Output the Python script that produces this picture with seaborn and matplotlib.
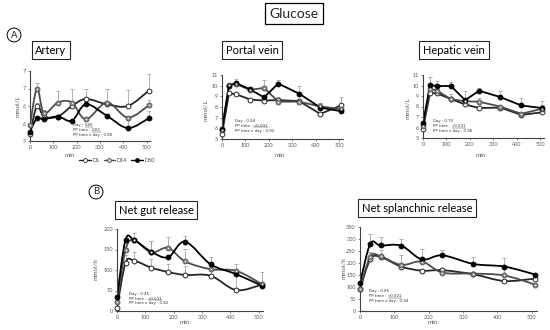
import numpy as np
import pandas as pd
import matplotlib
matplotlib.use("Agg")
import matplotlib.pyplot as plt
import seaborn as sns
from matplotlib.path import Path
from matplotlib.patches import PathPatch
from matplotlib.lines import Line2D

#---------- data ----------
minutes = [0, 30, 60, 120, 180, 240, 330, 420, 510]
days = ["D1", "D14", "D60"]

artery_d1 = [5.2, 6.0, 5.7, 5.7, 6.0, 6.2, 6.05, 6.0, 6.44]
artery_d14 = [5.45, 6.5, 5.8, 6.1, 6.1, 5.62, 6.1, 5.67, 6.02]
artery_d60 = [5.27, 5.65, 5.62, 5.7, 5.58, 6.05, 5.72, 5.37, 5.65]
artery_err_d1 = [0, 0.1, 0.15, 0, 0.1, 0.3, 0, 0.45, 0.48]
artery_err_d14 = [0, 0.15, 0.1, 0.32, 0.4, 0, 0.4, 0, 0.16]
artery_err_d60 = [0, 0, 0, 0, 0, 0, 0, 0.23, 0.2]

portal_d1 = [5.45, 9.3, 9.2, 8.7, 8.6, 8.65, 8.55, 7.35, 8.15]
portal_d14 = [5.85, 10.1, 10.15, 9.6, 9.8, 8.5, 8.5, 8.05, 7.8]
portal_d60 = [5.95, 10.0, 10.25, 9.65, 8.9, 10.2, 9.25, 7.95, 7.6]
portal_err_d1 = [0, 0, 0, 0, 0, 0.25, 0, 0, 0.8]
portal_err_d14 = [0, 0, 0.2, 0.3, 0.7, 0.35, 0, 0.35, 0]
portal_err_d60 = [0, 0.2, 0.35, 0.25, 0, 0.3, 0.75, 0.45, 0]

hepatic_d1 = [5.9, 9.3, 9.25, 8.7, 8.2, 7.85, 7.9, 7.2, 7.45]
hepatic_d14 = [6.1, 9.7, 9.5, 8.7, 8.5, 8.45, 8.0, 7.3, 7.8]
hepatic_d60 = [6.4, 10.03, 9.95, 9.95, 8.6, 9.5, 8.9, 8.1, 7.85]
hepatic_err_d1 = [0, 0, 0, 0, 0, 0, 0, 0, 0]
hepatic_err_d14 = [0, 0, 0, 0.5, 0, 0.4, 0, 0, 0.3]
hepatic_err_d60 = [0, 0.8, 0.45, 0.35, 0.9, 0.3, 0.55, 0.7, 0.65]

gut_d1 = [8, 117, 123, 106, 95, 88, 86, 51, 64]
gut_d14 = [22, 149, 173, 143, 154, 121, 102, 98, 66]
gut_d60 = [33, 173, 173, 145, 131, 169, 114, 90, 62]
gut_err_d1 = [0, 20, 22, 20, 20, 22, 20, 50, 0]
gut_err_d14 = [0, 0, 0, 28, 27, 30, 0, 17, 30]
gut_err_d60 = [0, 0, 17, 25, 0, 15, 18, 0, 0]

spl_d1 = [90, 216, 225, 185, 168, 170, 153, 125, 135]
spl_d14 = [93, 227, 228, 192, 206, 160, 156, 148, 110]
spl_d60 = [115, 280, 273, 272, 215, 232, 196, 185, 152]
spl_err_d1 = [0, 25, 0, 0, 0, 0, 0, 0, 0]
spl_err_d14 = [0, 20, 25, 40, 0, 20, 0, 25, 0]
spl_err_d60 = [0, 40, 35, 30, 45, 22, 28, 35, 0]

# each line: (plain text, underlined value)
artery_notes = [("Day : ", "0.05"), ("PP time : ", "0.03"), ("PP time x day : 0.80", "")]
portal_notes = [("Day : 0.58", ""), ("PP time : ", "<0.001"), ("PP time x day : 0.92", "")]
hepatic_notes = [("Day : 0.70", ""), ("PP time : ", "<0.001"), ("PP time x day : 0.96", "")]
gut_notes = [("Day : 0.45", ""), ("PP time : ", "<0.001"), ("PP time x day : 0.82", "")]
spl_notes = [("Day : 0.85", ""), ("PP time : ", "<0.001"), ("PP time x day : 0.94", "")]

#---------- style ----------
sns.set_theme(style="ticks")
plt.rcParams["font.family"] = ["Lato", "DejaVu Sans"]

W, H = 550, 330
line_col = {"D1": "#262626", "D14": "#4d4d4d", "D60": "black"}
face_col = {"D1": "white", "D14": "#d0d0d0", "D60": "black"}
edge_col = {"D1": "#262626", "D14": "#4d4d4d", "D60": "black"}


def px_rect(x0, y_top, w, h):
    return [x0 / W, 1 - (y_top + h) / H, w / W, h / H]


def smooth_path(x, y):
    pts = np.column_stack([x, y]).astype(float)
    verts = [pts[0]]
    codes = [Path.MOVETO]
    n = len(pts)
    for i in range(n - 1):
        p0 = pts[max(i - 1, 0)]
        p1 = pts[i]
        p2 = pts[i + 1]
        p3 = pts[min(i + 2, n - 1)]
        verts += [p1 + (p2 - p0) / 6, p2 - (p3 - p1) / 6, p2]
        codes += [Path.CURVE4] * 3
    return Path(verts, codes)


fig = plt.figure(figsize=(5.5, 3.3), dpi=100)

panels = [
    dict(rect=px_rect(30, 71, 120, 70), vals=[artery_d1, artery_d14, artery_d60],
         errs=[artery_err_d1, artery_err_d14, artery_err_d60], smooth=True,
         ylim=(5, 7), yticks=[5, 5.5, 6, 6.5, 7], yticklabels=["5", "6", "6", "7", "7"],
         ylabel="mmol/L", title="Artery", title_xy=(51, 50),
         notes=artery_notes, note_xy=(186, 5.42), note_step=0.135,
         xlabel_xy=(70, 156), ylabel_xy=(18, 106)),
    dict(rect=px_rect(222, 75, 120.5, 64), vals=[portal_d1, portal_d14, portal_d60],
         errs=[portal_err_d1, portal_err_d14, portal_err_d60], smooth=False,
         ylim=(5, 11), yticks=[5, 6, 7, 8, 9, 10, 11], yticklabels=None,
         ylabel="mmol/L", title="Portal vein", title_xy=(252, 50),
         notes=portal_notes, note_xy=(55, 6.6), note_step=0.45,
         xlabel_xy=(280, 156), ylabel_xy=(205, 110)),
    dict(rect=px_rect(423, 75, 120.5, 63), vals=[hepatic_d1, hepatic_d14, hepatic_d60],
         errs=[hepatic_err_d1, hepatic_err_d14, hepatic_err_d60], smooth=False,
         ylim=(5, 11), yticks=[5, 6, 7, 8, 9, 10, 11], yticklabels=None,
         ylabel="mmol/L", title="Hepatic vein", title_xy=(454, 50),
         notes=hepatic_notes, note_xy=(43, 6.5), note_step=0.45,
         xlabel_xy=(481, 156), ylabel_xy=(407, 108)),
    dict(rect=px_rect(117, 229, 146, 82), vals=[gut_d1, gut_d14, gut_d60],
         errs=[gut_err_d1, gut_err_d14, gut_err_d60], smooth=True,
         ylim=(0, 200), yticks=[0, 50, 100, 150, 200], yticklabels=None,
         ylabel="mmol/h", title="Net gut release", title_xy=(156, 210),
         notes=gut_notes, note_xy=(43, 38), note_step=10.5,
         xlabel_xy=(185, 323), ylabel_xy=(95, 269)),
    dict(rect=px_rect(360, 227, 177, 84), vals=[spl_d1, spl_d14, spl_d60],
         errs=[spl_err_d1, spl_err_d14, spl_err_d60], smooth=True,
         ylim=(0, 350), yticks=[0, 50, 100, 150, 200, 250, 300, 350], yticklabels=None,
         ylabel="mmol/h", title="Net splanchnic release", title_xy=(417, 208),
         notes=spl_notes, note_xy=(26, 78), note_step=20,
         xlabel_xy=(433, 323), ylabel_xy=(343, 268)),
]

underlined = []

for p in panels:
    ax = fig.add_axes(p["rect"])
    for day, vals, err in zip(days, p["vals"], p["errs"]):
        df = pd.DataFrame({"min": minutes, "value": vals, "err": err})
        if p["smooth"]:
            ax.add_patch(PathPatch(smooth_path(df["min"], df["value"]), fill=False,
                                   edgecolor=line_col[day], linewidth=1.3, zorder=2))
        else:
            sns.lineplot(data=df, x="min", y="value", ax=ax, color=line_col[day],
                         linewidth=1.3, zorder=2)
        ax.errorbar(df["min"], df["value"], yerr=[np.zeros(len(df)), df["err"]],
                    fmt="none", ecolor="#a6a6a6", elinewidth=0.6, capsize=1.3,
                    capthick=0.6, zorder=1)
        sns.scatterplot(data=df, x="min", y="value", ax=ax, marker="o", s=12,
                        color=face_col[day], edgecolor=edge_col[day], linewidth=0.7,
                        zorder=4, clip_on=False)
        if day == "D14":
            sns.scatterplot(data=df, x="min", y="value", ax=ax, marker="o", s=3,
                            color="white", edgecolor="#4d4d4d", linewidth=0.4,
                            zorder=5, clip_on=False)

    ax.set_xlim(0, 515)
    ax.set_ylim(*p["ylim"])
    ax.set_xticks([0, 100, 200, 300, 400, 500])
    ax.set_yticks(p["yticks"])
    if p["yticklabels"]:
        ax.set_yticklabels(p["yticklabels"])
    ax.tick_params(labelsize=4, colors="#595959", length=1.5, width=0.5, pad=1.5)
    for side in ["left", "bottom"]:
        ax.spines[side].set_color("#404040")
        ax.spines[side].set_linewidth(0.8)
    sns.despine(ax=ax)
    ax.set_xlabel("")
    ax.set_ylabel("")
    fig.text(p["xlabel_xy"][0] / W, 1 - p["xlabel_xy"][1] / H, "min", fontsize=4.5,
             color="#595959", ha="center", va="center")
    fig.text(p["ylabel_xy"][0] / W, 1 - p["ylabel_xy"][1] / H, p["ylabel"], fontsize=4.5,
             color="#595959", ha="center", va="center", rotation=90)

    # statistics lines, p-values < 0.05 underlined
    nx, ny = p["note_xy"]
    for k, (plain, value) in enumerate(p["notes"]):
        t = ax.text(nx, ny - k * p["note_step"], plain, fontsize=2.8, color="#333333",
                    family="DejaVu Sans", va="baseline", ha="left")
        if value:
            v = ax.annotate(value, xy=(1, 0), xycoords=t, fontsize=2.8, color="#333333",
                            family="DejaVu Sans", va="bottom", ha="left")
            underlined.append(v)

    fig.text(p["title_xy"][0] / W, 1 - p["title_xy"][1] / H, p["title"], fontsize=8,
             ha="center", va="center", color="black",
             bbox=dict(boxstyle="square,pad=0.35", facecolor="white",
                       edgecolor="#262626", linewidth=0.8))

# main title and panel letters
fig.text(294 / W, 1 - 13.5 / H, "Glucose", fontsize=10, ha="center", va="center",
         bbox=dict(boxstyle="square,pad=0.3", facecolor="white", edgecolor="black",
                   linewidth=0.9))
fig.text(14 / W, 1 - 35 / H, "A", fontsize=7, ha="center", va="center",
         bbox=dict(boxstyle="circle,pad=0.25", facecolor="white", edgecolor="black",
                   linewidth=0.7))
fig.text(96 / W, 1 - 192 / H, "B", fontsize=7, ha="center", va="center",
         bbox=dict(boxstyle="circle,pad=0.25", facecolor="white", edgecolor="black",
                   linewidth=0.7))

# legend under the artery panel
handles = [Line2D([0], [0], color=line_col[d], linewidth=1.0, marker="o", markersize=2.8,
                  markerfacecolor=face_col[d], markeredgecolor=edge_col[d],
                  markeredgewidth=0.6) for d in days]
fig.legend(handles, days, loc="center", bbox_to_anchor=(117 / W, 1 - 160 / H), ncol=3,
           frameon=False, fontsize=4, handlelength=2.0, handletextpad=0.3,
           columnspacing=0.8, labelcolor="#404040")

# underline the significant values
fig.canvas.draw()
renderer = fig.canvas.get_renderer()
for v in underlined:
    bb = v.get_window_extent(renderer)
    y_line = (bb.y0 + 0.3) / fig.bbox.height
    fig.add_artist(Line2D([bb.x0 / fig.bbox.width, bb.x1 / fig.bbox.width], [y_line, y_line],
                          color="#333333", linewidth=0.3))

plt.savefig("out.png", dpi=100)
